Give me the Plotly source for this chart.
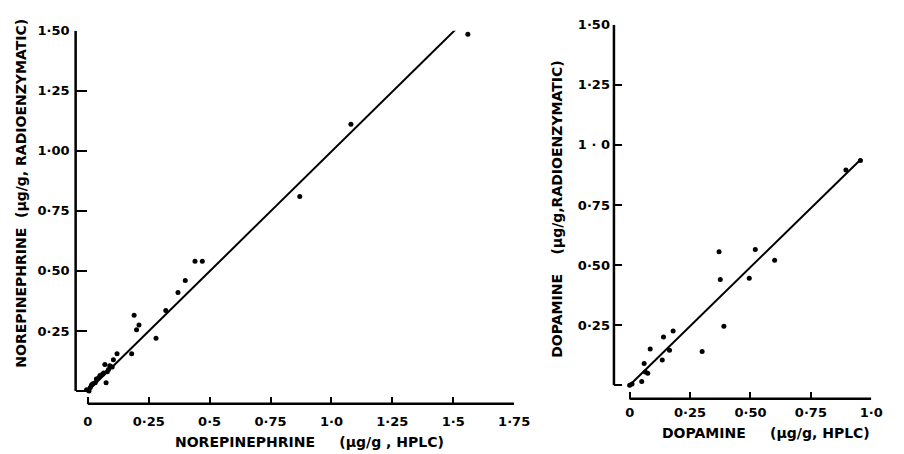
import plotly.graph_objects as go

# Norepinephrine: HPLC vs radioenzymatic assay (ug/g)
ne_hplc = [-0.005, 0.005, 0.01, 0.015, 0.02, 0.03, 0.035, 0.045, 0.05, 0.06, 0.065, 0.07,
           0.075, 0.08, 0.085, 0.09, 0.10, 0.105, 0.12, 0.18, 0.19, 0.20, 0.21, 0.28,
           0.32, 0.37, 0.40, 0.44, 0.47, 0.87, 1.08, 1.56]
ne_radio = [0.005, 0.0, 0.015, 0.025, 0.03, 0.035, 0.05, 0.055, 0.065, 0.07, 0.075, 0.11,
            0.035, 0.08, 0.09, 0.105, 0.10, 0.13, 0.155, 0.155, 0.315, 0.255, 0.275, 0.22,
            0.335, 0.41, 0.46, 0.54, 0.54, 0.81, 1.11, 1.485]
ne_fit_x = [0.0, 1.54]
ne_fit_y = [0.0, 1.535]

# Dopamine: HPLC vs radioenzymatic assay (ug/g)
da_hplc = [0.0, 0.01, 0.05, 0.06, 0.065, 0.075, 0.085, 0.135, 0.14, 0.165, 0.18, 0.30,
           0.37, 0.375, 0.39, 0.495, 0.52, 0.60, 0.895, 0.955]
da_radio = [0.0, 0.005, 0.015, 0.09, 0.055, 0.05, 0.15, 0.105, 0.20, 0.145, 0.225, 0.14,
            0.555, 0.44, 0.245, 0.445, 0.565, 0.52, 0.895, 0.935]
da_fit_x = [0.003, 0.956]
da_fit_y = [0.003, 0.939]

# Tick positions and labels
ne_xticks = [0, 0.25, 0.5, 0.75, 1.0, 1.25, 1.5, 1.75]
ne_xlabels = ["0", "0·25", "0·5", "0·75", "1·0", "1·25", "1·5", "1·75"]
ne_yticks = [0, 0.25, 0.5, 0.75, 1.0, 1.25, 1.5]
ne_ylabels = ["", "0·25", "0·50", "0·75", "1·00", "1·25", "1·50"]
da_xticks = [0, 0.25, 0.5, 0.75, 1.0]
da_xlabels = ["0", "0·25", "0·50", "0·75", "1·0"]
da_yticks = [0, 0.25, 0.5, 0.75, 1.0, 1.25, 1.5]
da_ylabels = ["", "0·25", "0·50", "0·75", "1 · 0", "1·25", "1·50"]

W, H = 904, 454
FONT = "DejaVu Sans"
INK = "black"

fig = go.Figure()

dot = dict(color=INK, size=5)
fig.add_trace(go.Scatter(x=ne_hplc, y=ne_radio, mode="markers", marker=dot,
                         xaxis="x", yaxis="y", showlegend=False))
fig.add_trace(go.Scatter(x=ne_fit_x, y=ne_fit_y, mode="lines",
                         line=dict(color=INK, width=2), xaxis="x", yaxis="y",
                         showlegend=False))
fig.add_trace(go.Scatter(x=da_hplc, y=da_radio, mode="markers", marker=dot,
                         xaxis="x2", yaxis="y2", showlegend=False))
fig.add_trace(go.Scatter(x=da_fit_x, y=da_fit_y, mode="lines",
                         line=dict(color=INK, width=2), xaxis="x2", yaxis="y2",
                         showlegend=False))


def px_x(p):
    return p / W


def px_y(p):
    return 1 - p / H


tickfont = dict(family=FONT, size=13, color=INK, weight="bold")
common = dict(showgrid=False, zeroline=False, showline=False, ticks="inside",
              tickwidth=2, tickcolor=INK, tickfont=tickfont, fixedrange=True)

fig.update_layout(
    width=W, height=H,
    margin=dict(l=0, r=0, t=0, b=0),
    paper_bgcolor="white", plot_bgcolor="white",
    xaxis=dict(domain=[px_x(77), px_x(523.4)], range=[-0.05, 1.75], anchor="y",
               tickvals=ne_xticks, ticktext=ne_xlabels, ticklen=7,
               ticklabelstandoff=8, **common),
    yaxis=dict(domain=[px_y(403), px_y(24)], range=[-0.053, 1.5], anchor="x",
               tickvals=ne_yticks, ticktext=ne_ylabels, ticklen=11,
               ticklabelstandoff=5, **common),
    xaxis2=dict(domain=[px_x(625), px_x(887)], range=[-0.065, 1.0], anchor="y2",
                tickvals=da_xticks, ticktext=da_xlabels, ticklen=7,
                ticklabelstandoff=4, **common),
    yaxis2=dict(domain=[px_y(398), px_y(18)], range=[-0.057, 1.5], anchor="x2",
                tickvals=da_yticks, ticktext=da_ylabels, ticklen=8,
                ticklabelstandoff=3, **common),
)

# Axis lines: the vertical one spans the value range only, the horizontal one
# starts at zero, leaving the corner open.
axis_line = dict(color=INK, width=2.5)
fig.add_shape(type="line", xref="x domain", yref="y", x0=0, x1=0, y0=0, y1=1.5,
              line=axis_line)
fig.add_shape(type="line", xref="x", yref="y domain", x0=0, x1=1.75, y0=0, y1=0,
              line=axis_line)
fig.add_shape(type="line", xref="x2 domain", yref="y2", x0=0, x1=0, y0=0, y1=1.5,
              line=axis_line)
fig.add_shape(type="line", xref="x2", yref="y2 domain", x0=0, x1=1.0, y0=0, y1=0,
              line=axis_line)

titlefont = dict(family=FONT, size=14, color=INK, weight="bold")
centered = dict(xref="paper", yref="paper", xanchor="center", yanchor="middle",
                showarrow=False, font=titlefont)
fig.add_annotation(text="NOREPINEPHRINE     (µg/g , HPLC)",
                   x=px_x(315), y=px_y(442), **centered)
fig.add_annotation(text="NOREPINEPHRINE  (µg/g, RADIOENZYMATIC)",
                   x=px_x(21), y=px_y(189), textangle=-90, **centered)
fig.add_annotation(text="DOPAMINE     (µg/g, HPLC)",
                   x=px_x(780), y=px_y(433), **centered)
fig.add_annotation(text="DOPAMINE    (µg/g,RADIOENZYMATIC)",
                   x=px_x(567), y=px_y(205), textangle=-90, **centered)

fig.write_html("out.html")
